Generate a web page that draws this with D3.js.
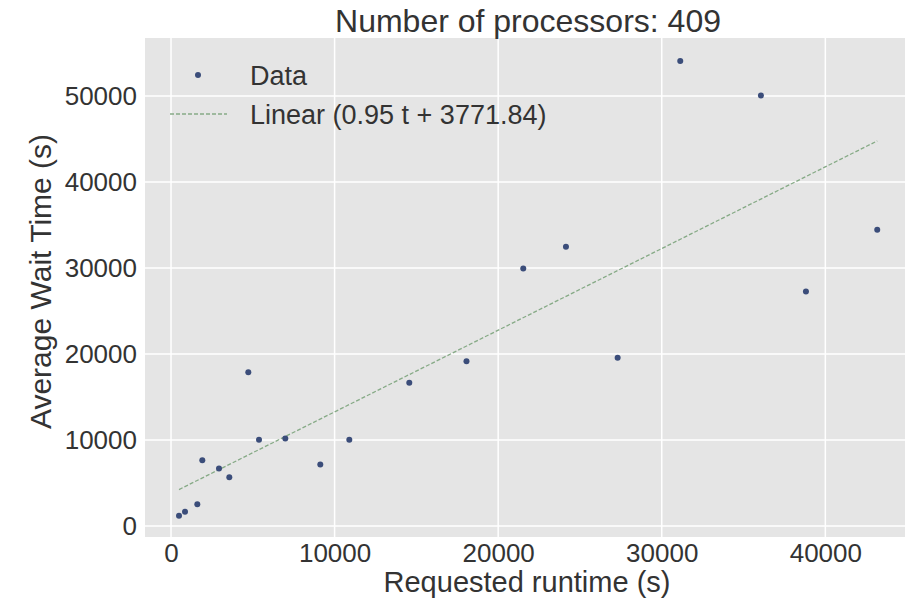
<!DOCTYPE html>
<html>
<head>
<meta charset="utf-8">
<script src="https://cdn.jsdelivr.net/npm/d3@7"></script>
<style>
  body { margin: 0; background: #fff; }
  svg text { font-family: "Liberation Sans", Arial, sans-serif; fill: #333; }
</style>
</head>
<body>
<div id="chart"></div>
<script>
// requested runtime (s) per job group
const runtime = [489, 856, 1608, 1913, 2934, 3564, 4725, 5379, 6987, 9126,
  10899, 14566, 18062, 21534, 24144, 27304, 31131, 36064, 38815, 43173];
// average wait time (s)
const waitTime = [1200, 1667, 2529, 7657, 6678, 5676, 17867, 10023, 10175, 7145,
  10023, 16667, 19149, 29953, 32483, 19557, 54079, 50082, 27273, 34464];

const xTicks = [0, 10000, 20000, 30000, 40000];
const yTicks = [0, 10000, 20000, 30000, 40000, 50000];

// linear fit shown in legend
const slope = 0.95;
const intercept = 3771.84;

const width = 905;
const height = 604;
const margin = { top: 38, right: 0, bottom: 67, left: 145 };
const w = width - margin.left - margin.right;
const h = height - margin.top - margin.bottom;

const svg = d3.select('#chart')
  .append('svg')
  .attr('width', width)
  .attr('height', height);

const g = svg.append('g')
  .attr('transform', `translate(${margin.left},${margin.top})`);

const x = d3.scaleLinear().domain([-1590, 44870]).range([0, w]);
const y = d3.scaleLinear().domain([-1282, 56760]).range([h, 0]);

// panel background
g.append('rect')
  .attr('width', w)
  .attr('height', h)
  .attr('fill', '#e5e5e5');

// grid
g.append('g')
  .selectAll('line')
  .data(xTicks)
  .enter()
  .append('line')
  .attr('x1', d => x(d))
  .attr('x2', d => x(d))
  .attr('y1', 0)
  .attr('y2', h)
  .attr('stroke', '#fff')
  .attr('stroke-width', 1.5);

g.append('g')
  .selectAll('line')
  .data(yTicks)
  .enter()
  .append('line')
  .attr('x1', 0)
  .attr('x2', w)
  .attr('y1', d => y(d))
  .attr('y2', d => y(d))
  .attr('stroke', '#fff')
  .attr('stroke-width', 1.5);

// axes (text only, no domain line / ticks)
const xAxis = g.append('g')
  .attr('transform', `translate(0,${h})`)
  .call(d3.axisBottom(x).tickValues(xTicks).tickFormat(d3.format('d')).tickSize(0).tickPadding(7));
xAxis.select('.domain').remove();
xAxis.selectAll('text')
  .attr('font-size', 26)
  .attr('font-family', '"Liberation Sans", Arial, sans-serif')
  .attr('fill', '#444');

const yAxis = g.append('g')
  .call(d3.axisLeft(y).tickValues(yTicks).tickFormat(d3.format('d')).tickSize(0).tickPadding(8));
yAxis.select('.domain').remove();
yAxis.selectAll('text')
  .attr('font-size', 26)
  .attr('font-family', '"Liberation Sans", Arial, sans-serif')
  .attr('fill', '#444');

// fit line
const xExt = d3.extent(runtime);
g.append('path')
  .datum(xExt)
  .attr('d', d3.line().x(d => x(d)).y(d => y(slope * d + intercept)))
  .attr('fill', 'none')
  .attr('stroke', '#86aa86')
  .attr('stroke-width', 1.3)
  .attr('stroke-dasharray', '4,2');

// data points
g.append('g')
  .selectAll('circle')
  .data(runtime)
  .enter()
  .append('circle')
  .attr('cx', d => x(d))
  .attr('cy', (d, i) => y(waitTime[i]))
  .attr('r', 3)
  .attr('fill', '#3b4d7a');

// legend
const legend = svg.append('g');
legend.append('circle')
  .attr('cx', 198).attr('cy', 75).attr('r', 3)
  .attr('fill', '#3b4d7a');
legend.append('text')
  .attr('x', 250).attr('y', 85)
  .attr('font-size', 27)
  .text('Data');
legend.append('line')
  .attr('x1', 170).attr('x2', 227)
  .attr('y1', 114).attr('y2', 114)
  .attr('stroke', '#86aa86')
  .attr('stroke-width', 1.3)
  .attr('stroke-dasharray', '4,2');
legend.append('text')
  .attr('x', 250).attr('y', 124)
  .attr('font-size', 27)
  .text(`Linear (${slope} t + ${intercept})`);

// titles
svg.append('text')
  .attr('x', margin.left + w / 2 + 3)
  .attr('y', 32)
  .attr('text-anchor', 'middle')
  .attr('font-size', 32)
  .text('Number of processors: 409');

svg.append('text')
  .attr('x', margin.left + w / 2 + 2)
  .attr('y', 592)
  .attr('text-anchor', 'middle')
  .attr('font-size', 29)
  .text('Requested runtime (s)');

svg.append('text')
  .attr('transform', `translate(51,${margin.top + h / 2 - 6}) rotate(-90)`)
  .attr('text-anchor', 'middle')
  .attr('font-size', 30)
  .text('Average Wait Time (s)');
</script>
</body>
</html>
